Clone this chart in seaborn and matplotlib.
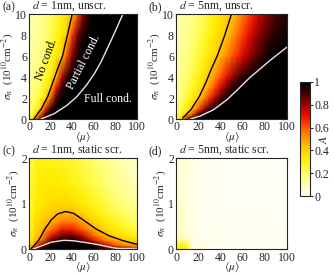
import numpy as np
import matplotlib
matplotlib.use('Agg')
import matplotlib.pyplot as plt
from matplotlib.colors import LinearSegmentedColormap
import seaborn as sns

# grid nodes (mu = <mu>, sig = sigma_n in 1e10 cm^-2)
mu_ab = [0, 5, 10, 15, 20, 25, 30, 35, 40, 45, 50, 55, 60, 65, 70, 75, 80, 85, 90, 95, 100]
sig_ab = [0, 0.5, 1, 2, 3, 4, 6, 8, 10]

# panel (a): d = 1nm, unscreened
A_a = [
    [0.25, 0.45, 0.85, 1, 1, 1, 1, 1, 1, 1, 1, 1, 1, 1, 1, 1, 1, 1, 1, 1, 1],
    [0.20, 0.30, 0.55, 0.85, 1, 1, 1, 1, 1, 1, 1, 1, 1, 1, 1, 1, 1, 1, 1, 1, 1],
    [0.18, 0.25, 0.36, 0.65, 0.92, 1, 1, 1, 1, 1, 1, 1, 1, 1, 1, 1, 1, 1, 1, 1, 1],
    [0.15, 0.20, 0.26, 0.35, 0.60, 0.88, 1, 1, 1, 1, 1, 1, 1, 1, 1, 1, 1, 1, 1, 1, 1],
    [0.14, 0.18, 0.22, 0.30, 0.39, 0.68, 0.90, 1, 1, 1, 1, 1, 1, 1, 1, 1, 1, 1, 1, 1, 1],
    [0.13, 0.16, 0.20, 0.26, 0.33, 0.46, 0.75, 0.93, 1, 1, 1, 1, 1, 1, 1, 1, 1, 1, 1, 1, 1],
    [0.12, 0.14, 0.17, 0.21, 0.26, 0.32, 0.39, 0.62, 0.84, 0.96, 1, 1, 1, 1, 1, 1, 1, 1, 1, 1, 1],
    [0.11, 0.13, 0.15, 0.19, 0.23, 0.28, 0.33, 0.40, 0.65, 0.85, 0.96, 1, 1, 1, 1, 1, 1, 1, 1, 1, 1],
    [0.10, 0.12, 0.14, 0.17, 0.21, 0.25, 0.30, 0.35, 0.41, 0.62, 0.82, 0.94, 1, 1, 1, 1, 1, 1, 1, 1, 1],
]

# panel (b): d = 5nm, unscreened
A_b = [
    [0.25, 0.38, 0.80, 1, 1, 1, 1, 1, 1, 1, 1, 1, 1, 1, 1, 1, 1, 1, 1, 1, 1],
    [0.20, 0.30, 0.40, 0.62, 0.85, 1, 1, 1, 1, 1, 1, 1, 1, 1, 1, 1, 1, 1, 1, 1, 1],
    [0.18, 0.24, 0.32, 0.43, 0.60, 0.76, 0.90, 1, 1, 1, 1, 1, 1, 1, 1, 1, 1, 1, 1, 1, 1],
    [0.15, 0.20, 0.26, 0.32, 0.39, 0.52, 0.65, 0.77, 0.88, 0.97, 1, 1, 1, 1, 1, 1, 1, 1, 1, 1, 1],
    [0.14, 0.18, 0.22, 0.27, 0.33, 0.40, 0.51, 0.62, 0.73, 0.83, 0.92, 0.98, 1, 1, 1, 1, 1, 1, 1, 1, 1],
    [0.13, 0.16, 0.20, 0.25, 0.30, 0.36, 0.43, 0.52, 0.61, 0.70, 0.79, 0.87, 0.94, 0.99, 1, 1, 1, 1, 1, 1, 1],
    [0.12, 0.14, 0.17, 0.21, 0.25, 0.29, 0.34, 0.38, 0.45, 0.52, 0.59, 0.66, 0.73, 0.79, 0.85, 0.90, 0.95, 0.99, 1, 1, 1],
    [0.11, 0.13, 0.15, 0.18, 0.22, 0.26, 0.30, 0.34, 0.38, 0.42, 0.49, 0.56, 0.63, 0.70, 0.76, 0.82, 0.87, 0.91, 0.94, 0.97, 0.98],
    [0.10, 0.12, 0.14, 0.16, 0.20, 0.23, 0.27, 0.31, 0.35, 0.38, 0.41, 0.48, 0.55, 0.62, 0.69, 0.75, 0.80, 0.85, 0.89, 0.92, 0.95],
]

# panel (c): d = 1nm, static screening
mu_c = [0, 5, 10, 20, 30, 40, 50, 60, 70, 80, 90, 100]
sig_c = [0, 0.1, 0.2, 0.3, 0.45, 0.6, 0.8, 1.0, 1.4, 2.0]
A_c = [
    [0.50, 0.85, 1, 1, 1, 1, 1, 1, 1, 0.90, 0.75, 0.70],
    [0.35, 0.50, 0.75, 1, 1, 1, 1, 0.97, 0.75, 0.60, 0.52, 0.48],
    [0.30, 0.42, 0.52, 0.85, 0.98, 0.98, 0.88, 0.70, 0.56, 0.48, 0.42, 0.38],
    [0.27, 0.40, 0.45, 0.70, 0.85, 0.86, 0.75, 0.58, 0.47, 0.39, 0.34, 0.30],
    [0.25, 0.37, 0.42, 0.55, 0.68, 0.68, 0.58, 0.47, 0.38, 0.32, 0.28, 0.24],
    [0.24, 0.35, 0.40, 0.46, 0.55, 0.56, 0.48, 0.40, 0.33, 0.28, 0.24, 0.20],
    [0.23, 0.33, 0.37, 0.41, 0.45, 0.45, 0.39, 0.33, 0.28, 0.24, 0.20, 0.17],
    [0.22, 0.32, 0.35, 0.37, 0.38, 0.37, 0.33, 0.29, 0.25, 0.21, 0.17, 0.14],
    [0.22, 0.30, 0.33, 0.34, 0.33, 0.31, 0.28, 0.24, 0.20, 0.16, 0.13, 0.10],
    [0.20, 0.28, 0.30, 0.30, 0.28, 0.26, 0.23, 0.20, 0.16, 0.12, 0.09, 0.06],
]

# panel (d): d = 5nm, static screening
mu_d = [0, 5, 10, 12, 15, 20, 40, 100]
sig_d = [0, 0.1, 0.15, 0.25, 0.5, 1, 2]
A_d = [
    [0.32, 0.32, 0.28, 0.20, 0.04, 0.02, 0.01, 0],
    [0.30, 0.30, 0.26, 0.18, 0.04, 0.02, 0.01, 0],
    [0.24, 0.24, 0.20, 0.14, 0.03, 0.02, 0.01, 0],
    [0.09, 0.09, 0.07, 0.05, 0.03, 0.02, 0.01, 0],
    [0.07, 0.07, 0.05, 0.04, 0.02, 0.01, 0.01, 0],
    [0.06, 0.06, 0.04, 0.03, 0.02, 0.01, 0, 0],
    [0.05, 0.05, 0.04, 0.03, 0.02, 0.01, 0, 0],
]

# boundary lines (black = onset, white = full condensation)
black_a_mu = [4.5, 5.5, 11.5, 17.5, 22, 26.5, 31, 35.5, 40]
black_a_sig = [0, 0.15, 1, 2.2, 3.5, 4.8, 6, 8, 10]
white_a_mu = [11, 23, 35, 44, 53, 61, 67, 77, 87]
white_a_sig = [0, 0.5, 1.3, 2.1, 3.2, 4.4, 5.5, 7.7, 10]

black_b_mu = [6, 13.5, 21, 27, 32, 37.5, 44, 50]
black_b_sig = [0.1, 0.9, 2.15, 3.5, 4.8, 6.1, 8, 10]
white_b_mu = [13, 22, 34, 46, 56.5, 67, 75, 85, 100]
white_b_sig = [0, 0.3, 0.9, 1.85, 2.9, 4, 4.7, 5.6, 6.85]

black_c_mu = [1.5, 8.9, 14.8, 20.7, 26.6, 34, 41.4, 50, 62, 74, 86, 100]
black_c_sig = [0, 0.2, 0.45, 0.65, 0.78, 0.83, 0.79, 0.65, 0.45, 0.3, 0.2, 0.11]
white_c_mu = [3, 11.8, 20.7, 32.5, 41, 53, 65, 77, 83, 100]
white_c_sig = [0, 0.08, 0.16, 0.2, 0.19, 0.15, 0.1, 0.04, 0.02, 0.01]

sns.set_theme(style='ticks')
plt.rcParams['font.family'] = ['Liberation Serif', 'DejaVu Serif']
plt.rcParams['mathtext.fontset'] = 'stix'
plt.rcParams['font.size'] = 8.5

cmap = LinearSegmentedColormap.from_list('Acmap', [
    (0.0, '#fffff4'), (0.1, '#ffffb4'), (0.2, '#ffff6a'), (0.32, '#fff000'),
    (0.42, '#ffc800'), (0.52, '#ff9000'), (0.62, '#ff4a00'), (0.7, '#f01000'),
    (0.8, '#a00000'), (0.9, '#400000'), (1.0, '#000000')])

fig = plt.figure(figsize=(3.34, 2.75), dpi=100)
ax_a = fig.add_axes([0.087, 0.567, 0.323, 0.382])
ax_b = fig.add_axes([0.527, 0.567, 0.332, 0.382])
ax_c = fig.add_axes([0.087, 0.093, 0.323, 0.332])
ax_d = fig.add_axes([0.527, 0.093, 0.332, 0.332])
cax = fig.add_axes([0.898, 0.287, 0.03, 0.415])

panels = [
    (ax_a, mu_ab, sig_ab, A_a, '(a)', r'$d$ = 1nm, unscr.', 10, [0, 2, 4, 6, 8, 10]),
    (ax_b, mu_ab, sig_ab, A_b, '(b)', r'$d$ = 5nm, unscr.', 10, [0, 2, 4, 6, 8, 10]),
    (ax_c, mu_c, sig_c, A_c, '(c)', r'$d$ = 1nm, static scr.', 2, [0, 1, 2]),
    (ax_d, mu_d, sig_d, A_d, '(d)', r'$d$ = 5nm, static scr.', 2, [0, 1, 2]),
]

for ax, mu, sig, A, tag, title, ymax, yt in panels:
    mesh = ax.pcolormesh(np.array(mu), np.array(sig), np.array(A), shading='gouraud',
                         cmap=cmap, vmin=0, vmax=1, rasterized=True)
    ax.set_xlim(0, 100)
    ax.set_ylim(0, ymax)
    ax.set_xticks([0, 20, 40, 60, 80, 100])
    ax.set_yticks(yt)
    ax.tick_params(direction='in', top=True, right=True, length=4, width=0.8,
                   labelsize=8.5, pad=1.5, color='#333333')
    for s in ax.spines.values():
        s.set_linewidth(0.8)
    ax.set_xlabel(r'$\langle\mu\rangle$', fontsize=8, labelpad=-2)
    ax.set_ylabel(r'$\sigma_n$  (10$^{10}$cm$^{-2}$)', fontsize=8, labelpad=0)
    ax.text(-0.245, 1.01, tag, transform=ax.transAxes, fontsize=8.5, va='bottom')
    ax.text(0.03, 1.01, title, transform=ax.transAxes, fontsize=8.5, va='bottom')

sns.lineplot(x=black_a_mu, y=black_a_sig, ax=ax_a, color='black', lw=1, sort=False)
sns.lineplot(x=white_a_mu, y=white_a_sig, ax=ax_a, color='#e6e6e6', lw=1, sort=False)
sns.lineplot(x=black_b_mu, y=black_b_sig, ax=ax_b, color='black', lw=1, sort=False)
sns.lineplot(x=white_b_mu, y=white_b_sig, ax=ax_b, color='#e6e6e6', lw=1, sort=False)
sns.lineplot(x=black_c_mu, y=black_c_sig, ax=ax_c, color='black', lw=1, sort=False)
sns.lineplot(x=white_c_mu, y=white_c_sig, ax=ax_c, color='#e6e6e6', lw=1, sort=False)

ax_a.text(16, 5.7, 'No cond.', rotation=70, color='black', ha='center', va='center', fontsize=8.5)
ax_a.text(51, 5.4, 'Partial cond.', rotation=63, color='white', ha='center', va='center', fontsize=8.5)
ax_a.text(73, 1.9, 'Full cond.', color='white', ha='center', va='center', fontsize=8.5)

cb = fig.colorbar(mesh, cax=cax, ticks=[0, 0.2, 0.4, 0.6, 0.8, 1])
cb.ax.set_yticklabels(['0', '0.2', '0.4', '0.6', '0.8', '1'])
cb.ax.tick_params(direction='out', length=2, width=0.8, labelsize=8.5, pad=1)
cb.outline.set_linewidth(0.8)
cax.text(2.45, 0.5, r'$A$', transform=cax.transAxes, rotation=90,
         ha='center', va='center', fontsize=8.5)

fig.savefig('out.png', dpi=100)
